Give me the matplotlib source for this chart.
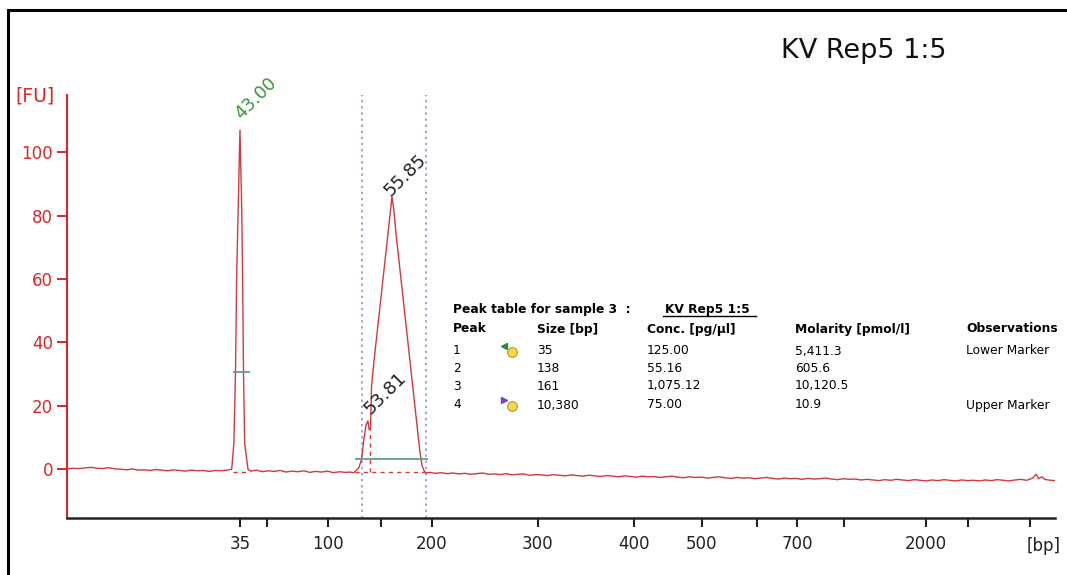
import numpy as np
import matplotlib.pyplot as plt
from matplotlib.patches import Rectangle
from matplotlib.lines import Line2D

# electropherogram trace: migration time [s] vs fluorescence [FU]
time_s = [28.4, 28.9, 29.4, 29.9, 30.4, 30.9, 31.4, 31.9, 32.4, 32.9, 33.4, 33.9, 34.4, 34.9,
          35.4, 35.9, 36.4, 36.9, 37.4, 37.9, 38.4, 38.9, 39.4, 39.9, 40.4, 40.9, 41.4, 41.9,
          42.30, 42.48, 42.62, 42.72, 42.85, 43.00, 43.15, 43.22, 43.30, 43.40, 43.68,
          43.9, 44.4, 44.9, 45.4, 45.9, 46.4, 46.9, 47.4, 47.9, 48.4, 48.9, 49.4, 49.9, 50.4,
          50.9, 51.4, 51.9, 52.3, 52.62,
          53.04, 53.27, 53.47, 53.66, 53.81, 53.92, 54.03, 54.12, 54.31, 54.6, 54.9, 55.2,
          55.5, 55.7, 55.85, 56.0, 56.2, 56.5, 56.8, 57.1, 57.4, 57.7, 58.0, 58.2, 58.4,
          58.6, 58.8,
          59.0, 59.5, 60.0, 60.5, 61.0, 61.5, 62.0, 62.5, 63.0, 63.5, 64.0, 64.5, 65.0, 65.5,
          66.0, 66.5, 67.0, 67.5, 68.0, 68.5, 69.0, 69.5, 70.0, 70.5, 71.0, 71.5, 72.0, 72.5,
          73.0, 73.5, 74.0, 74.5, 75.0, 75.5, 76.0, 76.5, 77.0, 77.5, 78.0, 78.5, 79.0, 79.5,
          80.0, 80.5, 81.0, 81.5, 82.0, 82.5, 83.0, 83.5, 84.0, 84.5, 85.0, 85.5, 86.0, 86.5,
          87.0, 87.5, 88.0, 88.5, 89.0, 89.5, 90.0, 90.5, 91.0, 91.5, 92.0, 92.5, 93.0, 93.5,
          94.0, 94.5, 95.0, 95.5, 96.0, 96.5, 97.0, 97.5, 98.0, 98.5, 99.0, 99.5, 100.0, 100.5,
          101.0, 101.5, 102.0, 102.5, 103.0, 103.5, 104.0, 104.5, 105.0, 105.5, 106.0, 106.5,
          107.0, 107.5, 108.0, 108.5, 109.0, 109.5, 110.0, 110.3, 110.5, 110.8, 111.0, 111.5,
          111.9]
fu = [0.1, 0.3, 0.2, 0.4, 0.6, 0.3, 0.2, 0.5, 0.1, 0.0, -0.2, 0.1, -0.3, -0.2,
      -0.4, -0.1, -0.3, -0.5, -0.2, -0.4, -0.6, -0.3, -0.5, -0.4, -0.7, -0.4, -0.5, -0.3,
      0.0, 8.0, 30.0, 61.0, 82.0, 107.0, 82.0, 61.0, 30.0, 8.0, 0.0,
      -0.6, -0.3, -0.8, -0.5, -0.7, -0.4, -0.9, -0.6, -0.8, -0.5, -1.0, -0.7, -0.9, -0.6,
      -1.1, -0.8, -1.0, -0.9, -1.1,
      0.4, 3.0, 9.3, 14.0, 15.2, 12.5, 12.4, 26.0, 33.5, 43.3, 53.6, 63.8,
      74.0, 81.0, 86.0, 82.0, 74.0, 63.8, 53.6, 43.3, 33.1, 22.9, 12.6, 5.8, 1.0,
      -0.8, -1.2,
      -1.0, -1.3, -1.1, -1.4, -1.2, -1.5, -1.3, -1.6, -1.4, -1.2, -1.6, -1.5, -1.7, -1.4,
      -1.8, -1.6, -1.5, -1.9, -1.7, -1.8, -2.0, -1.7, -1.9, -2.1, -1.8, -2.0, -2.2, -1.9,
      -2.1, -2.3, -2.0, -2.2, -2.4, -2.1, -2.3, -2.5, -2.2, -2.4, -2.3, -2.6, -2.4, -2.2,
      -2.5, -2.7, -2.4, -2.6, -2.5, -2.8, -2.6, -2.4, -2.7, -2.9, -2.6, -2.8, -2.7, -3.0,
      -2.8, -2.6, -2.9, -3.1, -2.8, -3.0, -2.9, -3.2, -2.9, -3.1, -3.0, -2.8, -3.1, -3.3,
      -3.0, -3.2, -3.1, -3.4, -3.2, -3.4, -3.6, -3.3, -3.5, -3.2, -3.4, -3.6, -3.3, -3.5,
      -3.7, -3.4, -3.6, -3.3, -3.5, -3.7, -3.4, -3.6, -3.5, -3.7, -3.4, -3.6,
      -3.3, -3.5, -3.7, -3.4, -3.2, -3.5, -2.8, -1.6, -3.0, -2.4, -3.2, -3.5,
      -3.6]

# ladder calibration: migration time of size marks and their bp labels
ladder_time = [43.0, 45.28, 50.44, 54.92, 59.23, 68.19, 76.31, 82.05, 86.70, 90.08,
               94.06, 100.99, 104.54, 109.78]
ladder_label = ['35', '', '100', '', '200', '300', '400', '500', '', '700', '', '2000', '', '']

# called peaks (time, height, colour)
peak_time = [43.00, 53.81, 55.85]
peak_height = [107.0, 15.2, 86.0]
peak_color = ['#3a963a', '#222222', '#222222']

# region / marker integration limits
region = (53.29, 58.72)
region_base = (52.72, 58.89, 3.2)
marker_base = (42.43, 43.85, 30.8)
valley_time, valley_fu = 54.03, 12.4

# peak table
tbl_peak = ['1', '2', '3', '4']
tbl_size = ['35', '138', '161', '10,380']
tbl_conc = ['125.00', '55.16', '1,075.12', '75.00']
tbl_mol = ['5,411.3', '605.6', '10,120.5', '10.9']
tbl_obs = ['Lower Marker', '', '', 'Upper Marker']

red = '#cf3a3e'
W, H = 1067, 575

fig = plt.figure(figsize=(10.67, 5.75), dpi=100, facecolor='white')
ax = fig.add_axes([67 / W, 1 - 518 / H, (1055 - 67) / W, (518 - 95) / H])

ax.plot(time_s, fu, color=red, lw=1.0, zorder=3)

# integration helpers
ax.axvline(region[0], color='#8585d0', ls=(0, (1.5, 2.5)), lw=1.1, zorder=2)
ax.axvline(region[1], color='#8585d0', ls=(0, (1.5, 2.5)), lw=1.1, zorder=2)
ax.hlines(region_base[2], region_base[0], region_base[1], color='#5f9f90', lw=1.3, zorder=4)
ax.hlines(marker_base[2], marker_base[0], marker_base[1], color='#5f9f90', lw=1.3, zorder=4)
ax.hlines(-0.9, region_base[0], region_base[1], color=red, ls=(0, (3, 3)), lw=1.0, zorder=2)
ax.hlines(-0.9, marker_base[0], marker_base[1], color=red, ls=(0, (3, 3)), lw=1.0, zorder=2)
ax.vlines(valley_time, -0.9, valley_fu, color=red, ls=(0, (3, 3)), lw=1.0, zorder=2)

offsets = [(3, 5), (4, 2), (1, -2)]
for t, h, c, off in zip(peak_time, peak_height, peak_color, offsets):
    ax.annotate(f'{t:.2f}', xy=(t, h), xytext=off, textcoords='offset points',
                rotation=45, rotation_mode='anchor', ha='left', va='bottom',
                fontsize=13, color=c)

ax.set_xlim(28.38, 111.89)
ax.set_ylim(-15.4, 118.1)
ax.set_yticks([0, 20, 40, 60, 80, 100])
ax.set_xticks(ladder_time)
ax.set_xticklabels(ladder_label)

for s in ['top', 'right']:
    ax.spines[s].set_visible(False)
ax.spines['left'].set_color('#d62a2a')
ax.spines['left'].set_linewidth(1.5)
ax.spines['bottom'].set_color('#222222')
ax.spines['bottom'].set_linewidth(1.8)
ax.tick_params(axis='y', colors='#d62a2a', length=7, width=1.4, labelsize=12, pad=3)
ax.tick_params(axis='x', colors='#222222', length=6.5, width=1.5, labelsize=12, pad=6)

fig.text(35 / W, 1 - 96 / H, '[FU]', color='#d62a2a', fontsize=13.5, ha='center', va='center')
fig.text(1027 / W, 1 - 546 / H, '[bp]', color='#222222', fontsize=12, ha='left', va='center')
fig.text(864 / W, 1 - 51 / H, 'KV Rep5 1:5', fontsize=19.5, ha='center', va='center', color='#111111')

# peak table
fs = 8.8
def put(x, y, s, **kw):
    fig.text(x / W, 1 - y / H, s, fontsize=fs, ha='left', va='center', **kw)

put(453, 309, 'Peak table for sample 3  :', fontweight='bold')
put(665, 309, 'KV Rep5 1:5', fontweight='bold')
fig.add_artist(Line2D([663 / W, 756 / W], [1 - 316 / H, 1 - 316 / H], color='black', lw=1.0))
cols = [453, 537, 647, 795, 966]
for x, s in zip(cols, ['Peak', 'Size [bp]', 'Conc. [pg/µl]', 'Molarity [pmol/l]', 'Observations']):
    put(x, 329, s, fontweight='bold')
rows_y = [351, 368, 386, 405]
for i, y in enumerate(rows_y):
    for x, s in zip(cols, [tbl_peak[i], tbl_size[i], tbl_conc[i], tbl_mol[i], tbl_obs[i]]):
        put(x, y, s)

# marker icons (arrow + lock)
for y, mk, c in [(351, '<', '#2e8b2e'), (405, '>', '#7a3fd0')]:
    fig.add_artist(Line2D([504 / W], [1 - (y - 5) / H], marker=mk, ms=4, color=c, lw=0))
    fig.add_artist(Line2D([512 / W], [1 - (y + 1) / H], marker='o', ms=7, mfc='#f2d84a',
                          mec='#b89a20', mew=0.8, lw=0))

# frame around the screenshot
fig.add_artist(Rectangle((8 / W, -0.1), 1.2, 1 - 10 / H + 0.1, transform=fig.transFigure,
                         fill=False, ec='black', lw=2.2))

fig.savefig('out.png', dpi=100)
